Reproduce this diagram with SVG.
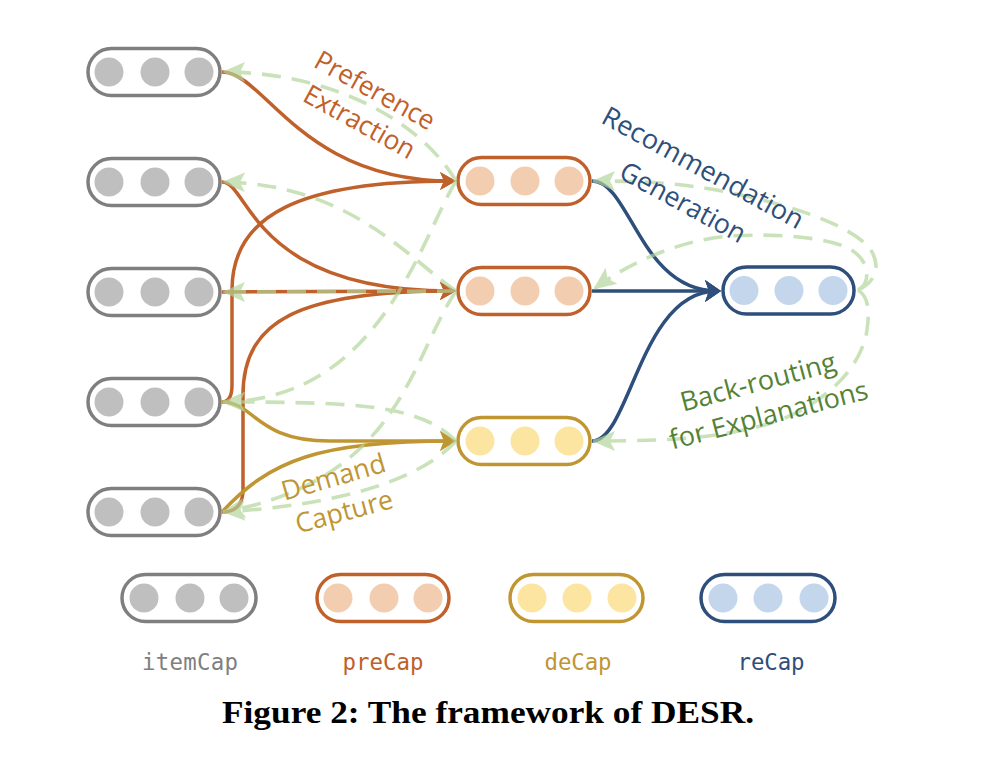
<svg xmlns="http://www.w3.org/2000/svg" width="988" height="770" viewBox="0 0 988 770">
<style>
.bg{fill:#ffffff}
.cap{fill:#ffffff;stroke-width:3.5}
.it{stroke:#7f7f7f}.it circle{fill:#bfbfbf}
.pr{stroke:#c0602a}.pr circle{fill:#f2cdb0}
.de{stroke:#c09632}.de circle{fill:#fce5a0}
.re{stroke:#2e4f7b}.re circle{fill:#c3d6ec}
circle{stroke:none}
.o{fill:none;stroke:#c0602a;stroke-width:3.5;marker-end:url(#aO)}
.g{fill:none;stroke:#c09632;stroke-width:3.5;marker-end:url(#aY)}
.b{fill:none;stroke:#2e4f7b;stroke-width:3.5;marker-end:url(#aB)}
.d{fill:none;stroke:#b2d59a;stroke-width:3.6;stroke-dasharray:19 11;marker-end:url(#aG)}
.lbl{font-family:"Open Sans","Noto Sans",sans-serif;font-size:27px;text-anchor:middle}
.leg{font-family:"DejaVu Sans Mono","Liberation Mono",monospace;font-size:22.4px;text-anchor:middle}
.fig{font-family:"Liberation Serif","DejaVu Serif",serif;font-size:32px;font-weight:bold;text-anchor:middle;fill:#000}
</style>
<defs>
<marker id="aO" viewBox="0 0 16 20" refX="12" refY="10" markerWidth="16" markerHeight="20" markerUnits="userSpaceOnUse" orient="auto"><path d="M0,1 L16,10 L0,19 L4,10 Z" fill="#c0602a"/></marker>
<marker id="aY" viewBox="0 0 16 22" refX="12" refY="11" markerWidth="16" markerHeight="22" markerUnits="userSpaceOnUse" orient="auto"><path d="M0,1 L16,11 L0,21 L4,11 Z" fill="#c09632"/></marker>
<marker id="aB" viewBox="0 0 16 22" refX="12" refY="11" markerWidth="16" markerHeight="22" markerUnits="userSpaceOnUse" orient="auto"><path d="M0,0 L16,11 L0,22 L4,11 Z" fill="#2e4f7b"/></marker>
<marker id="aG" viewBox="0 0 24 22" refX="22" refY="11" markerWidth="24" markerHeight="22" markerUnits="userSpaceOnUse" orient="auto"><path d="M0,1 L23,11 L0,21 L5,11 Z" fill="#b2d59a"/></marker>
</defs>
<rect class="bg" x="0" y="0" width="988" height="770"/>

<g id="nodes">
<g id="item1" class="cap it"><rect class="cap" x="88" y="48.5" width="132" height="47" rx="23.5"/><circle cx="109" cy="72" r="14.5"/><circle cx="155" cy="72" r="14.5"/><circle cx="199" cy="72" r="14.5"/></g>
<g id="item2" class="cap it"><rect class="cap" x="88" y="158.5" width="132" height="47" rx="23.5"/><circle cx="109" cy="182" r="14.5"/><circle cx="155" cy="182" r="14.5"/><circle cx="199" cy="182" r="14.5"/></g>
<g id="item3" class="cap it"><rect class="cap" x="88" y="268.5" width="132" height="47" rx="23.5"/><circle cx="109" cy="292" r="14.5"/><circle cx="155" cy="292" r="14.5"/><circle cx="199" cy="292" r="14.5"/></g>
<g id="item4" class="cap it"><rect class="cap" x="88" y="378.5" width="132" height="47" rx="23.5"/><circle cx="109" cy="402" r="14.5"/><circle cx="155" cy="402" r="14.5"/><circle cx="199" cy="402" r="14.5"/></g>
<g id="item5" class="cap it"><rect class="cap" x="88" y="488.5" width="132" height="47" rx="23.5"/><circle cx="109" cy="512" r="14.5"/><circle cx="155" cy="512" r="14.5"/><circle cx="199" cy="512" r="14.5"/></g>
<g id="preCap1" class="cap pr"><rect class="cap" x="458" y="157.5" width="132" height="47" rx="23.5"/><circle cx="480" cy="181" r="14.5"/><circle cx="525" cy="181" r="14.5"/><circle cx="569" cy="181" r="14.5"/></g>
<g id="preCap2" class="cap pr"><rect class="cap" x="458" y="267.5" width="132" height="47" rx="23.5"/><circle cx="480" cy="291" r="14.5"/><circle cx="525" cy="291" r="14.5"/><circle cx="569" cy="291" r="14.5"/></g>
<g id="deCap1" class="cap de"><rect class="cap" x="458" y="417.5" width="132" height="47" rx="23.5"/><circle cx="480" cy="441" r="14.5"/><circle cx="525" cy="441" r="14.5"/><circle cx="569" cy="441" r="14.5"/></g>
<g id="reCap1" class="cap re"><rect class="cap" x="723" y="267" width="131" height="47" rx="23.5"/><circle cx="744" cy="290.5" r="14.5"/><circle cx="789" cy="290.5" r="14.5"/><circle cx="833" cy="290.5" r="14.5"/></g>
</g>

<g id="connectors">
<g id="forward">
<path class="o" d="M222,72 C265,72 300,181 452,181"/>
<path class="o" d="M222,182 C250,182 250,291 452,291"/>
<path class="o" d="M222,292 L452,291"/>
<path class="o" d="M222,402 C229,402 232,396 232,385 L232,290 C232,215 300,181 452,181"/>
<path class="o" d="M222,512 C236,512 243,504 243,490 L243,395 C243,320 300,291 452,291"/>
<path class="g" d="M222,402 C255,402 255,441 330,441 L452,441"/>
<path class="g" d="M222,512 C270,460 320,441 452,441"/>
<path class="b" d="M592,181 C630,181 640,291 717,291"/>
<path class="b" d="M592,291 L717,291"/>
<path class="b" d="M592,441 C630,441 640,291 717,291"/>
</g>
<g id="backrouting" opacity="0.68">
<path class="d" d="M456,181 C420,120 330,72 223,72"/>
<path class="d" d="M456,291 C410,260 350,184 223,182"/>
<path class="d" d="M456,291 L223,292"/>
<path class="d" d="M456,181 C420,240 380,400 223,402"/>
<path class="d" d="M456,291 C410,360 400,480 223,512"/>
<path class="d" d="M456,441 C420,405 360,402 223,402"/>
<path class="d" d="M456,441 C420,480 340,505 223,512"/>
<path class="d" d="M858,290 C872,284 882,270 872,252 C855,222 760,195 690,186 C650,181 620,181 593,181"/>
<path class="d" d="M858,290 C870,284 872,262 850,249 C830,238 780,233 730,236 C680,240 630,262 594,289"/>
<path class="d" d="M858,290 C868,296 870,310 867,330 C862,365 830,400 780,420 C730,438 670,441 593,441"/>
</g>
</g>

<g id="labels">
<text class="lbl" fill="#c0602a" x="370.5" y="98.5" transform="rotate(29 370.5 98.5)" textLength="133" lengthAdjust="spacingAndGlyphs">Preference</text>
<text class="lbl" fill="#c0602a" x="355" y="130" transform="rotate(29 355 130)" textLength="123" lengthAdjust="spacingAndGlyphs">Extraction</text>
<text class="lbl" fill="#2e4f7b" x="698.5" y="176" transform="rotate(28.5 698.5 176)" textLength="225" lengthAdjust="spacingAndGlyphs">Recommendation</text>
<text class="lbl" fill="#2e4f7b" x="678.5" y="210.5" transform="rotate(28.5 678.5 210.5)" textLength="139" lengthAdjust="spacingAndGlyphs">Generation</text>
<text class="lbl" fill="#548235" x="760.5" y="391" transform="rotate(-15 760.5 391)" textLength="160" lengthAdjust="spacingAndGlyphs">Back-routing</text>
<text class="lbl" fill="#548235" x="771" y="424" transform="rotate(-14.5 771 424)" textLength="204" lengthAdjust="spacingAndGlyphs">for Explanations</text>
<text class="lbl" fill="#c09632" x="336" y="486" transform="rotate(-16 336 486)" textLength="107" lengthAdjust="spacingAndGlyphs">Demand</text>
<text class="lbl" fill="#c09632" x="346.5" y="520.5" transform="rotate(-15 346.5 520.5)" textLength="100" lengthAdjust="spacingAndGlyphs">Capture</text>
</g>

<g id="legend">
<g id="legend-itemCap" class="cap it"><rect class="cap" x="122" y="574.5" width="134" height="47" rx="23.5"/><circle cx="144" cy="598" r="14.5"/><circle cx="190" cy="598" r="14.5"/><circle cx="234" cy="598" r="14.5"/></g>
<g id="legend-preCap" class="cap pr"><rect class="cap" x="317" y="574.5" width="132" height="47" rx="23.5"/><circle cx="338" cy="598" r="14.5"/><circle cx="384" cy="598" r="14.5"/><circle cx="428" cy="598" r="14.5"/></g>
<g id="legend-deCap" class="cap de"><rect class="cap" x="510" y="574.5" width="133" height="47" rx="23.5"/><circle cx="532" cy="598" r="14.5"/><circle cx="577" cy="598" r="14.5"/><circle cx="622" cy="598" r="14.5"/></g>
<g id="legend-reCap" class="cap re"><rect class="cap" x="701" y="574.5" width="134" height="47" rx="23.5"/><circle cx="723" cy="598" r="14.5"/><circle cx="768" cy="598" r="14.5"/><circle cx="814" cy="598" r="14.5"/></g>
<text class="leg" fill="#808080" x="190" y="670" textLength="96">itemCap</text>
<text class="leg" fill="#c0602a" x="383" y="670" textLength="81">preCap</text>
<text class="leg" fill="#c09632" x="578" y="670" textLength="67">deCap</text>
<text class="leg" fill="#2e4f7b" x="771" y="670" textLength="67">reCap</text>
</g>

<text class="fig" x="488" y="723" textLength="532" lengthAdjust="spacingAndGlyphs">Figure 2: The framework of DESR.</text>
</svg>
